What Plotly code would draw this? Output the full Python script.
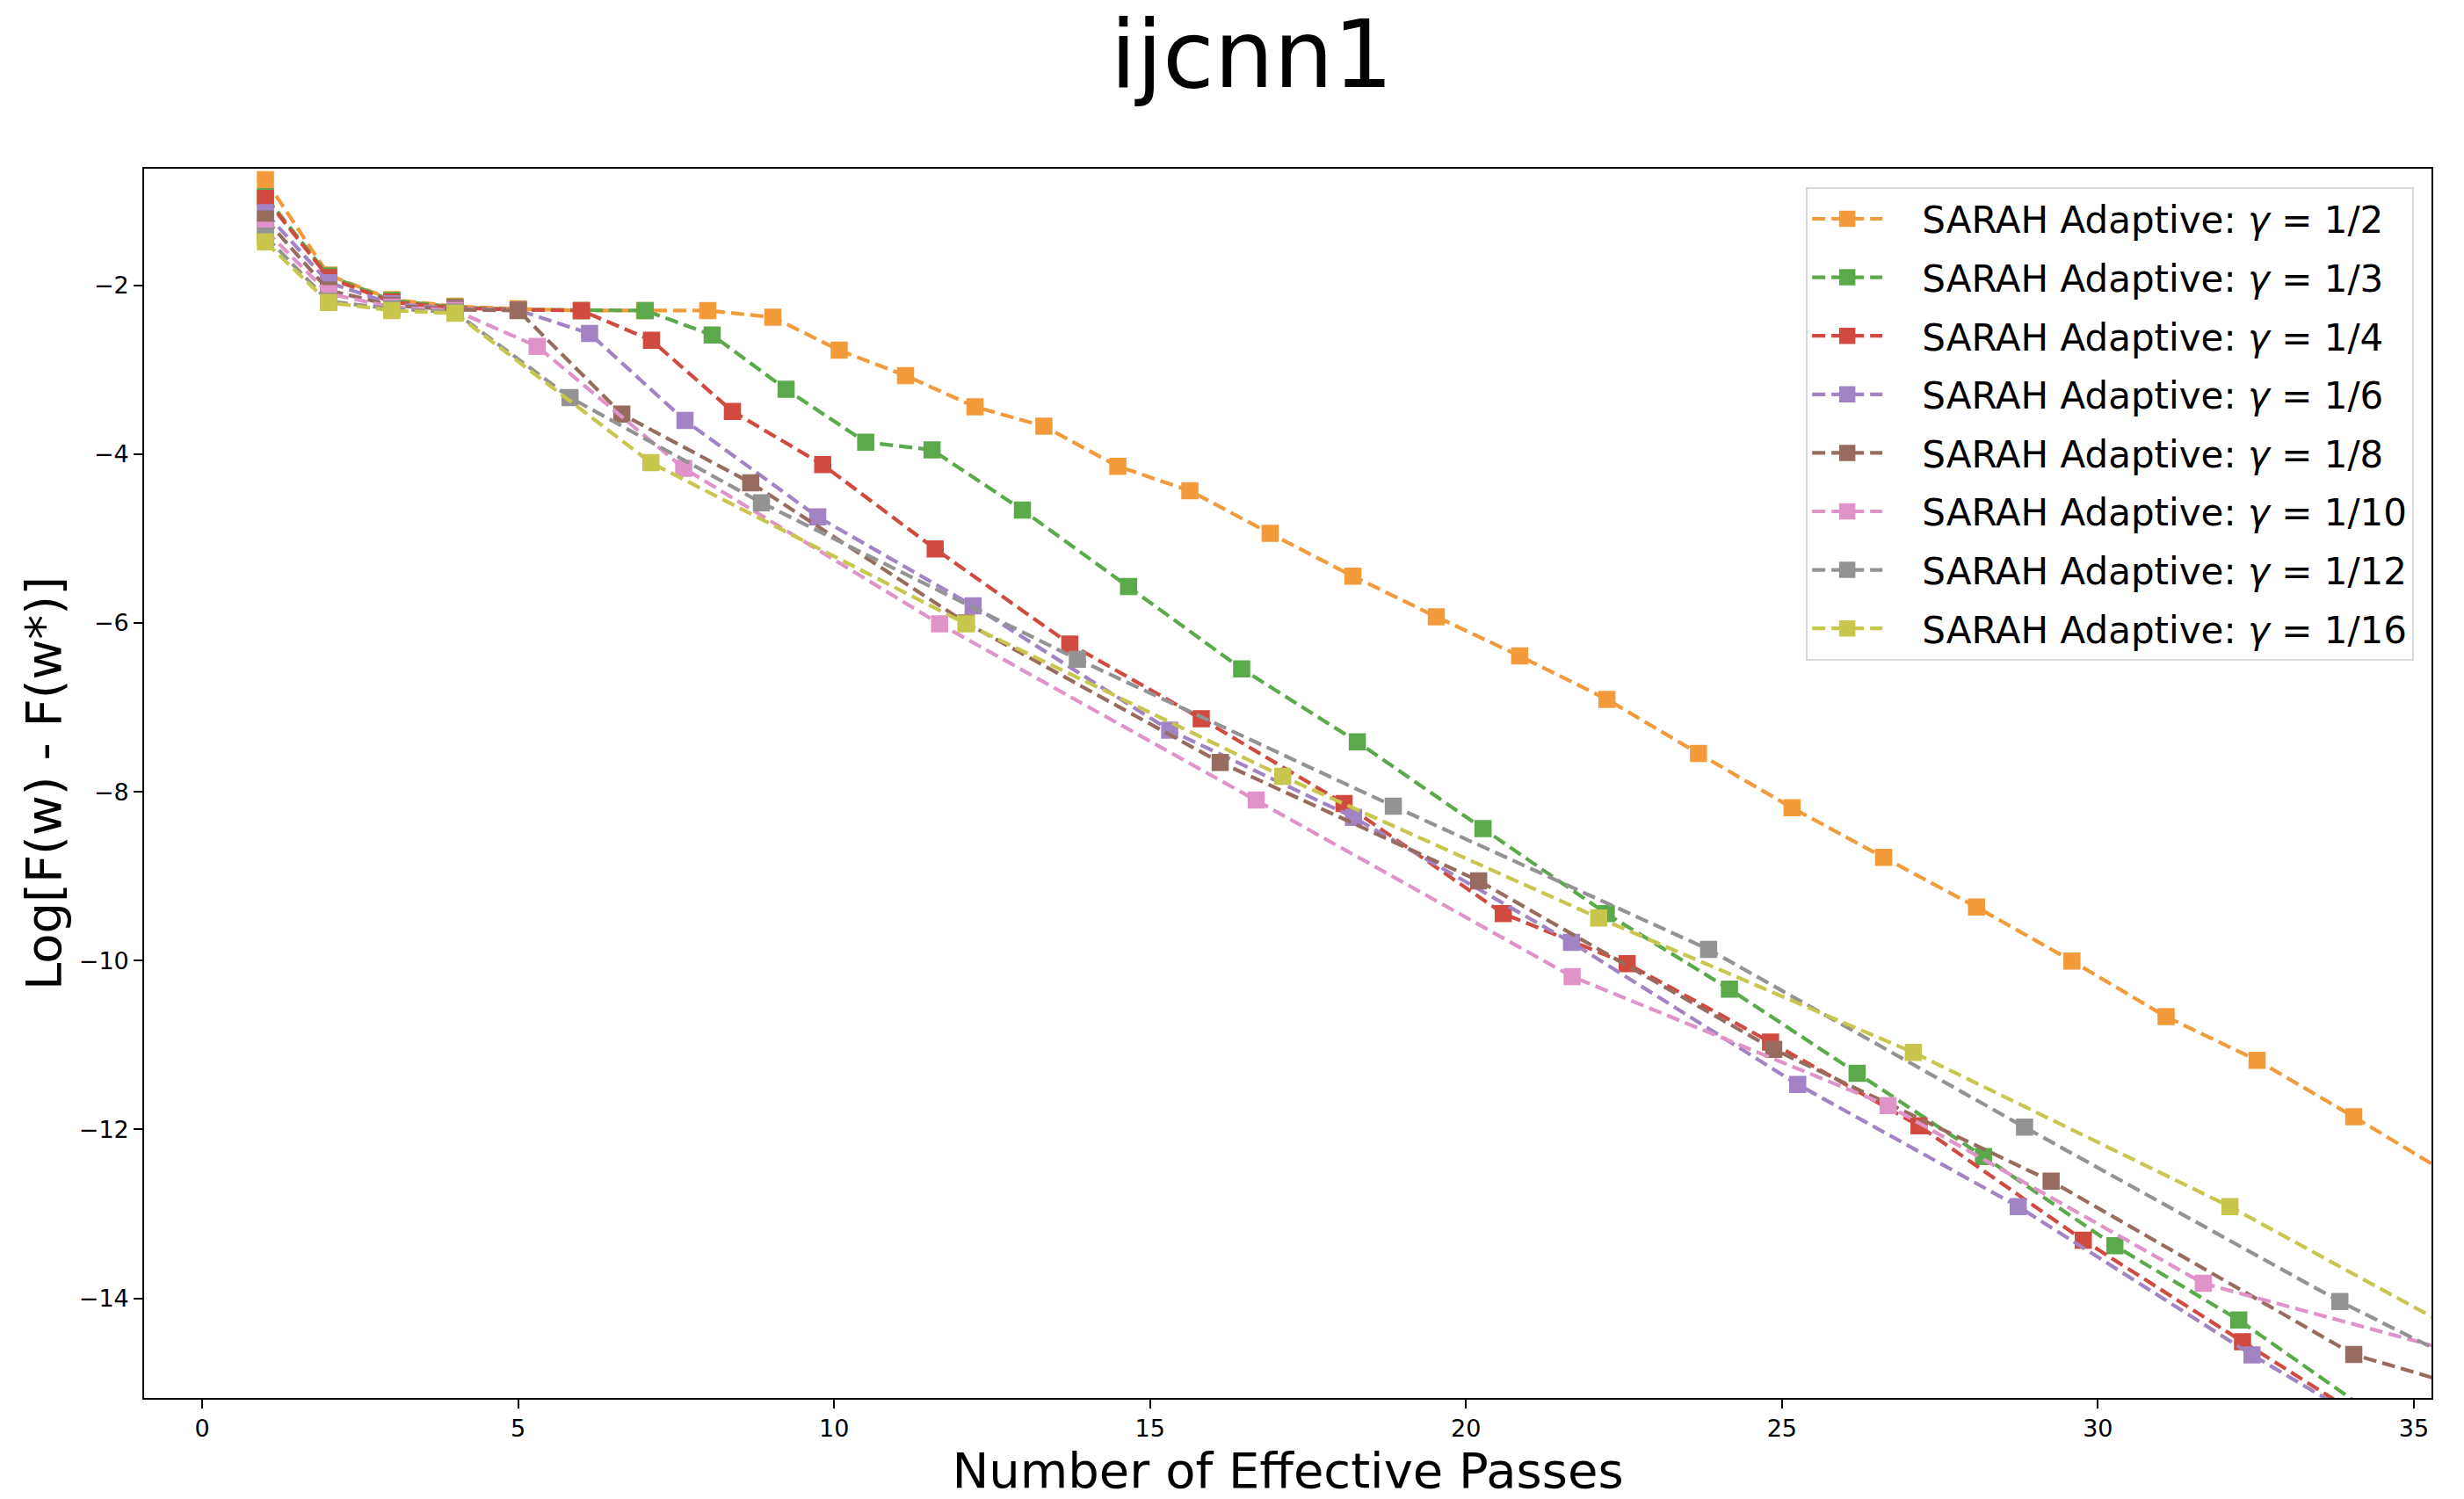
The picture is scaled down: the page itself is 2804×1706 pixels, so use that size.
import plotly.graph_objects as go

# ---- data ----
labels = ["1/2", "1/3", "1/4", "1/6", "1/8", "1/10", "1/12", "1/16"]
colors = ["#F39A3B", "#5AA94A", "#D14A3F", "#A284C4", "#986B5F", "#DF93C9", "#939393", "#C8C64C"]

x_g2 = [1, 2, 3, 4, 5, 6, 7, 8, 9.03, 10.08, 11.13, 12.23, 13.32, 14.49, 15.63, 16.90, 18.21,
        19.53, 20.85, 22.23, 23.68, 25.16, 26.61, 28.08, 29.59, 31.08, 32.52, 34.05, 35.6]
y_g2 = [-0.75, -1.88, -2.17, -2.25, -2.28, -2.30, -2.30, -2.30, -2.38, -2.77, -3.07, -3.44, -3.67,
        -4.145, -4.435, -4.94, -5.447, -5.927, -6.392, -6.905, -7.547, -8.19, -8.778, -9.366,
        -10.005, -10.664, -11.18, -11.85, -12.55]

x_g3 = [1, 2, 3, 4, 5, 6, 7.01, 8.07, 9.24, 10.50, 11.55, 12.98, 14.66, 16.45, 18.28, 20.27,
        22.22, 24.17, 26.19, 28.19, 30.27, 32.23, 34.2]
y_g3 = [-0.95, -1.89, -2.18, -2.26, -2.29, -2.30, -2.30, -2.59, -3.233, -3.86, -3.95, -4.663,
        -5.57, -6.544, -7.409, -8.436, -9.443, -10.337, -11.334, -12.32, -13.378, -14.257, -15.29]

x_g4 = [1, 2, 3, 4, 5, 6.0, 7.11, 8.39, 9.82, 11.60, 13.73, 15.81, 18.07, 20.59, 22.55, 24.82,
        27.17, 29.77, 32.29, 34.8]
y_g4 = [-0.97, -1.91, -2.20, -2.27, -2.29, -2.30, -2.653, -3.494, -4.126, -5.124, -6.25, -7.134,
        -8.14, -9.443, -10.036, -10.966, -11.957, -13.311, -14.513, -15.70]

x_g6 = [1, 2, 3, 4, 5, 6.13, 7.64, 9.74, 12.20, 15.31, 18.22, 21.67, 25.25, 28.74, 32.44, 35.9]
y_g6 = [-1.14, -1.97, -2.22, -2.28, -2.295, -2.572, -3.603, -4.744, -5.798, -7.271, -8.303,
        -9.785, -11.467, -12.913, -14.671, -16.2]

x_g8 = [1, 2, 3, 4, 5.0, 6.64, 8.68, 12.09, 16.11, 20.20, 24.87, 29.26, 34.05, 38.8]
y_g8 = [-1.216, -2.06, -2.24, -2.29, -2.30, -3.527, -4.34, -6.0, -7.652, -9.054, -11.05,
        -12.612, -14.666, -15.71]

x_g10 = [1, 2, 3, 4, 5.30, 7.62, 11.67, 16.68, 21.68, 26.68, 31.67, 36.67]
y_g10 = [-1.349, -2.10, -2.26, -2.30, -2.724, -4.168, -6.012, -8.099, -10.189, -11.717,
         -13.823, -14.84]

x_g12 = [1, 2, 3, 4, 5.82, 8.85, 13.85, 18.85, 23.84, 28.84, 33.83, 38.83]
y_g12 = [-1.42, -2.19, -2.28, -2.32, -3.33, -4.577, -6.43, -8.17, -9.867, -11.973, -14.037, -15.91]

x_g16 = [1, 2, 3, 4, 7.10, 12.09, 17.10, 22.10, 27.08, 32.09, 37.1]
y_g16 = [-1.487, -2.205, -2.30, -2.333, -4.102, -6.012, -7.818, -9.494, -11.088, -12.913, -14.96]

xs = [x_g2, x_g3, x_g4, x_g6, x_g8, x_g10, x_g12, x_g16]
ys = [y_g2, y_g3, y_g4, y_g6, y_g8, y_g10, y_g12, y_g16]

x_range = [-0.92, 35.28]
y_range = [-15.18, -0.62]

FONT = "DejaVu Sans"
GAP = "\u00a0\u00a0\u00a0"  # space between the legend line sample and its text

fig = go.Figure()
for i, (lab, col, x, y) in enumerate(zip(labels, colors, xs, ys)):
    fig.add_trace(go.Scatter(
        x=x, y=y, mode="lines+markers",
        name=GAP + "SARAH Adaptive: <i>γ</i> = " + lab,
        legendgroup="g%d" % i,
        line=dict(color=col, width=4.2, dash="15px,7px"),
        marker=dict(symbol="square", size=17, color=col, line=dict(color=col, width=2.5)),
    ))

fig.update_layout(
    width=2804, height=1706,
    margin=dict(l=164, r=37, t=192, b=115, autoexpand=False),
    paper_bgcolor="white", plot_bgcolor="white",
    font=dict(family=FONT, color="black"),
    title=dict(text="ijcnn1", font=dict(family=FONT, size=107, color="black"),
               x=0.508, xref="container", xanchor="center",
               y=0.964, yref="container", yanchor="middle"),
    showlegend=True,
    legend=dict(x=0.9923, y=0.985, xanchor="right", yanchor="top",
                bgcolor="rgba(255,255,255,0.8)", bordercolor="#d9d9d9", borderwidth=2.2,
                font=dict(family=FONT, size=42, color="black"),
                traceorder="grouped", tracegroupgap=9, itemwidth=80),
)
fig.update_xaxes(range=x_range, tick0=0, dtick=5, showgrid=False, zeroline=False,
                 showline=True, linecolor="black", linewidth=2.2, mirror=True,
                 ticks="outside", ticklen=9.7, tickwidth=2.2, tickcolor="black",
                 tickfont=dict(family=FONT, size=27, color="black"),
                 title=dict(text="Number of Effective Passes",
                            font=dict(family=FONT, size=56, color="black"), standoff=14))
fig.update_yaxes(range=y_range, tick0=0, dtick=2, showgrid=False, zeroline=False,
                 showline=True, linecolor="black", linewidth=2.2, mirror=True,
                 ticks="outside", ticklen=9.7, tickwidth=2.2, tickcolor="black",
                 tickfont=dict(family=FONT, size=27, color="black"),
                 title=dict(text="Log[F(w) - F(w*)]",
                            font=dict(family=FONT, size=56, color="black"), standoff=2))

fig.write_html("out.html", config={"displayModeBar": False},
               post_script="document.body.style.margin='0px';document.body.style.overflow='hidden';")
